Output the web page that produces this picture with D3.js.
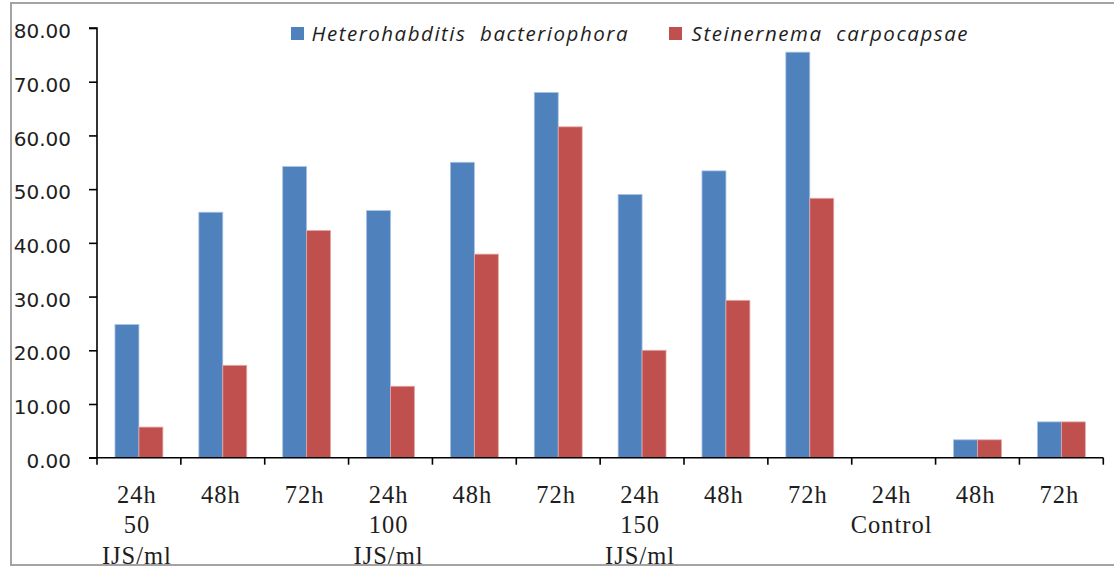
<!DOCTYPE html>
<html>
<head>
<meta charset="utf-8">
<script src="https://cdn.jsdelivr.net/npm/d3@7"></script>
<style>
  html, body { margin: 0; padding: 0; background: #fff; }
  svg { display: block; }
</style>
</head>
<body>
<svg id="chart" width="1114" height="572"></svg>
<script>
// Exposure times along the x axis
const categories = ["24h", "48h", "72h", "24h", "48h", "72h", "24h", "48h", "72h", "24h", "48h", "72h"];
// Concentration group label lines, written under the first time of each group
const groupLines = [["50", "IJS/ml"], null, null, ["100", "IJS/ml"], null, null, ["150", "IJS/ml"], null, null, ["Control"], null, null];
// Mortality (%) for each nematode species
const seriesNames = ["Heterohabditis  bacteriophora", "Steinernema  carpocapsae"];
const heterohabditis = [24.8, 45.7, 54.2, 46.0, 55.0, 68.0, 49.0, 53.4, 75.5, 0, 3.33, 6.67];
const steinernema = [5.7, 17.2, 42.3, 13.3, 37.9, 61.6, 20.0, 29.3, 48.3, 0, 3.33, 6.67];
const yTicks = [0, 10, 20, 30, 40, 50, 60, 70, 80];

const colors = ["#4F81BD", "#C0504D"];
const strokes = ["#a9c2e3", "#e3a9a7"];

const svg = d3.select("#chart");

// frame around the chart area
const frame = svg.append("g").attr("stroke", "#a3a3a3").attr("stroke-width", 2).attr("fill", "none");
frame.append("path").attr("d", "M1114,565 L11,565 L11,3 L1114,3");

const x0 = 97, x1 = 1103.3, yTop = 28, yBase = 457.7;

const x = d3.scaleBand().domain(d3.range(categories.length)).range([x0, x1]).paddingInner(0).paddingOuter(0);
const y = d3.scaleLinear().domain([0, 80]).range([yBase, yTop]);

const bw = x.bandwidth() / 3.5;
const offset = (x.bandwidth() - 2 * bw) / 2;
const series = [heterohabditis, steinernema];

// bars
series.forEach((vals, si) => {
  svg.append("g").selectAll("rect").data(vals).join("rect")
    .attr("x", (d, i) => x(i) + offset + si * bw)
    .attr("y", d => y(d))
    .attr("width", bw)
    .attr("height", d => yBase - y(d))
    .attr("fill", colors[si])
    .attr("stroke", d => d > 0 ? strokes[si] : "none")
    .attr("stroke-width", 0.8);
});

// y axis
const yAxis = svg.append("g").attr("transform", `translate(${x0},0)`)
  .call(d3.axisLeft(y).tickValues(yTicks).tickSize(8).tickFormat(""));
yAxis.select(".domain").attr("stroke", "#000").attr("stroke-width", 1.6).attr("d", `M-8,${yTop}H0V${yBase}H-8`);
yAxis.selectAll(".tick line").attr("stroke", "#000").attr("stroke-width", 1.6);

svg.append("g").selectAll("text").data(yTicks).join("text")
  .attr("x", 71)
  .attr("y", d => y(d) + 3)
  .attr("dy", "0.36em")
  .attr("text-anchor", "end")
  .attr("font-family", "DejaVu Sans, Verdana, sans-serif")
  .attr("font-size", 20)
  .attr("fill", "#1e1e1e")
  .text(d => d3.format(".2f")(d));

// x axis with boundary ticks
const xAxisG = svg.append("g");
xAxisG.append("line").attr("x1", x0).attr("x2", x1).attr("y1", yBase).attr("y2", yBase)
  .attr("stroke", "#000").attr("stroke-width", 1.6);
const bounds = d3.range(categories.length + 1).map(i => i < categories.length ? x(i) : x1);
xAxisG.selectAll(".bt").data(bounds).join("line")
  .attr("x1", d => d).attr("x2", d => d)
  .attr("y1", yBase).attr("y2", yBase + 7)
  .attr("stroke", "#000").attr("stroke-width", 1.6);

// category labels
const lab = svg.append("g")
  .attr("font-family", "Liberation Serif, Times New Roman, serif")
  .attr("font-size", 24.5)
  .attr("letter-spacing", "1px")
  .attr("fill", "#1e1e1e")
  .attr("text-anchor", "middle");
categories.forEach((c, i) => {
  const cx = x(i) + x.bandwidth() / 2 - 2;
  const lines = [c].concat(groupLines[i] || []);
  lines.forEach((t, li) => {
    lab.append("text").attr("x", cx).attr("y", 502.5 + li * 30.7).text(t);
  });
});

// legend
const legend = [
  { sx: 291, tx: 311.5, w: 316 },
  { sx: 669, tx: 691.5, w: 276 }
];
legend.forEach((l, i) => {
  svg.append("rect").attr("x", l.sx).attr("y", 27).attr("width", 13).attr("height", 13).attr("fill", colors[i]);
  svg.append("text")
    .attr("x", l.tx).attr("y", 41)
    .attr("font-family", "Open Sans, Noto Sans, sans-serif")
    .attr("font-style", "italic")
    .attr("font-size", 20.5)
    .attr("fill", "#1e1e1e")
    .attr("textLength", l.w)
    .attr("lengthAdjust", "spacing")
    .style("white-space", "pre")
    .text(seriesNames[i]);
});
</script>
</body>
</html>
